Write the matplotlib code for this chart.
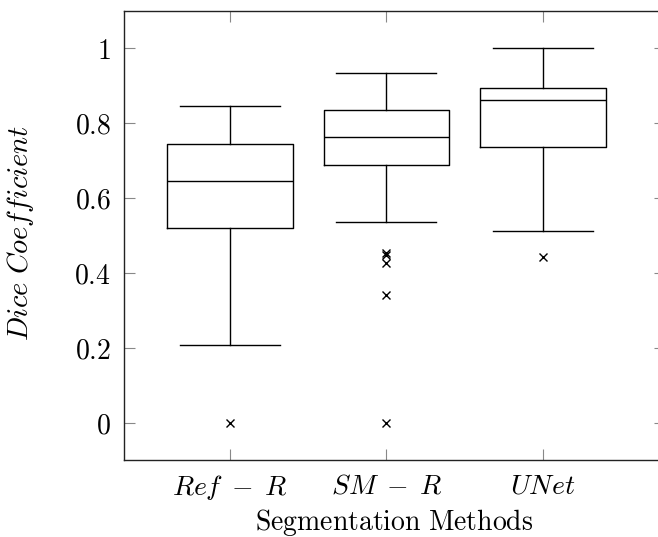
import matplotlib
matplotlib.use("Agg")
import matplotlib.pyplot as plt

plt.rcParams['mathtext.fontset'] = 'cm'
plt.rcParams['font.family'] = 'serif'
plt.rcParams['font.serif'] = ['DejaVu Serif']

# values
methods = [r'$Ref\;-\;R$', r'$SM\;-\;R$', r'$UNet$']
whislo = [0.209, 0.537, 0.511]
q1 = [0.520, 0.687, 0.737]
med = [0.646, 0.763, 0.862]
q3 = [0.745, 0.835, 0.893]
whishi = [0.846, 0.934, 1.0]
fliers = [[0.0], [0.454, 0.449, 0.426, 0.341, 0.0], [0.442]]

yticks = [0, 0.2, 0.4, 0.6, 0.8, 1.0]
ytick_labels = [r'$0$', r'$0.2$', r'$0.4$', r'$0.6$', r'$0.8$', r'$1$']

stats = []
for i in range(len(methods)):
    stats.append({'whislo': whislo[i], 'q1': q1[i], 'med': med[i], 'q3': q3[i],
                  'whishi': whishi[i], 'fliers': fliers[i]})

fig = plt.figure(figsize=(6.58, 5.37), dpi=100)
ax = fig.add_axes([0.1877, 0.1428, 0.8229, 0.8373])

pos = [1, 2, 3]
ax.bxp(stats, positions=pos, widths=0.8, capwidths=0.64,
       boxprops=dict(color='black', linewidth=1.0),
       medianprops=dict(color='black', linewidth=1.0),
       whiskerprops=dict(color='black', linewidth=1.0),
       capprops=dict(color='black', linewidth=1.0),
       flierprops=dict(marker='x', markeredgecolor='black', markersize=6,
                       markeredgewidth=1.0, linestyle='none'))

ax.set_xlim(0.32, 3.78)
ax.set_ylim(-0.1, 1.1)
ax.set_xticks(pos)
ax.set_xticklabels(methods)
ax.set_yticks(yticks)
ax.set_yticklabels(ytick_labels)
ax.tick_params(direction='in', length=8, width=0.8, color='#888888',
               top=True, right=True, labelsize=20)
ax.tick_params(axis='y', pad=9)
ax.tick_params(axis='x', pad=9)
for s in ax.spines.values():
    s.set_color('#222222')
    s.set_linewidth(1.0)

ax.set_xlabel(r'$\mathrm{Segmentation\ Methods}$', fontsize=20)
ax.set_ylabel(r'$Dice\ Coefficient$', fontsize=20.5)
ax.xaxis.set_label_coords(0.5, -0.103)
ax.yaxis.set_label_coords(-0.162, 0.505)

fig.savefig('out.png', dpi=100)
